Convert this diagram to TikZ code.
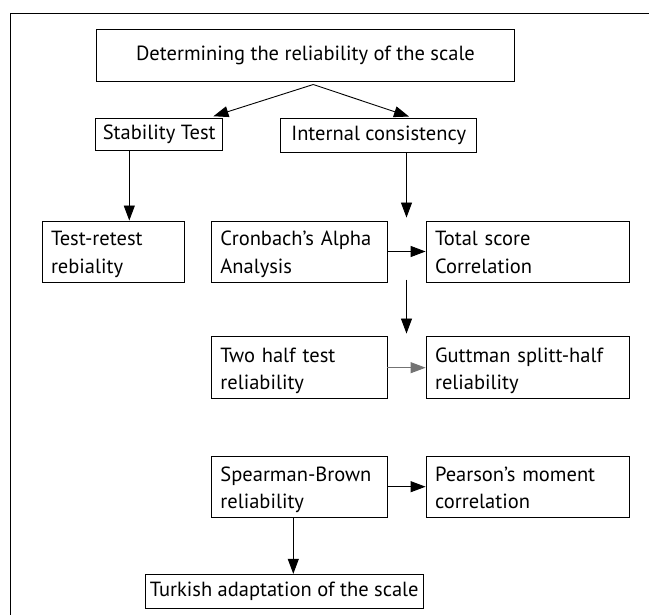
\documentclass[tikz,border=0pt]{standalone}
\usepackage{fontspec}
\setmainfont{PT Sans}
\usepackage{tikz}
\usetikzlibrary{arrows.meta,positioning,calc}

\begin{document}
\begin{tikzpicture}[
  x=1pt,y=-1pt,
  box/.style={draw,line width=0.9pt,inner sep=0pt,align=center,font=\fontsize{20.5}{27.7}\selectfont},
  twoline/.style={box,align=left,text height=21pt,text depth=32pt},
  arr/.style={line width=0.9pt,-{Triangle[length=15pt,width=11pt]}}
]
  \useasboundingbox (0,0) rectangle (649,615);
  % frame
  \draw[line width=0.9pt] (660,13.3) -- (10.7,13.3) -- (10.7,630);
  \node[box,minimum width=417.6,minimum height=52.3] (top) at (305.5,55.2) {Determining the reliability of the scale};
  \node[box,minimum width=127,minimum height=32] (stab) at (159.2,134.3) {Stability Test};
  \node[box,minimum width=196,minimum height=34] (intern) at (378.7,135.3) {Internal consistency};
  \node[twoline,minimum width=142,minimum height=61,text width=124] (retest) at (113,251.5) {Test-retest\\rebiality};
  \node[twoline,minimum width=175.5,minimum height=61,text width=157.5] (cron) at (299.2,251.5) {Cronbach's Alpha\\Analysis};
  \node[twoline,minimum width=203.3,minimum height=61,text width=185.3] (total) at (527.7,251.5) {Total score\\Correlation};
  \node[twoline,minimum width=175.5,minimum height=62,text width=157.5] (twohalf) at (299.2,367.7) {Two half test\\reliability};
  \node[twoline,minimum width=203.3,minimum height=62,text width=185.3] (gutt) at (527.7,367.7) {Guttman splitt-half\\reliability};
  \node[twoline,minimum width=175.5,minimum height=61.3,text width=157.5] (spear) at (299.2,486.7) {Spearman-Brown\\reliability};
  \node[twoline,minimum width=203.3,minimum height=61.3,text width=185.3] (pears) at (527.7,486.7) {Pearson's moment\\correlation};
  \node[box,minimum width=277.7,minimum height=34] (turk) at (284.2,591.3) {Turkish adaptation of the scale};
  \coordinate (gapA) at ($(cron.north east)!.5!(total.north west)$);
  \coordinate (gapB) at ($(cron.south east)!.5!(total.south west)$);
  \coordinate (gapC) at ($(twohalf.north east)!.5!(gutt.north west)$);
  \draw[arr] ([xshift=7.8pt,yshift=-2.7pt]top.south) -- ([xshift=-9.7pt,yshift=1.6pt]stab.north east);
  \draw[arr] ([xshift=7.8pt,yshift=-2.7pt]top.south) -- ([xshift=30.3pt,yshift=1.3pt]intern.north);
  \draw[arr] ([xshift=-29.9pt]stab.south) -- ([xshift=-29.9pt]stab.south |- retest.north);
  \draw[arr] (intern.south -| gapA) -- ([yshift=3pt]gapA);
  \draw[arr] (cron.east) -- (total.west);
  \draw[arr] ([yshift=2.7pt]gapB) -- ([yshift=2.7pt]gapC);
  \draw[arr,draw=black!55] (twohalf.east) -- (gutt.west);
  \draw[arr] (spear.east) -- (pears.west);
  \draw[arr] ([xshift=-5.9pt]spear.south) -- ([xshift=-5.9pt]spear.south |- turk.north);
\end{tikzpicture}
\end{document}
